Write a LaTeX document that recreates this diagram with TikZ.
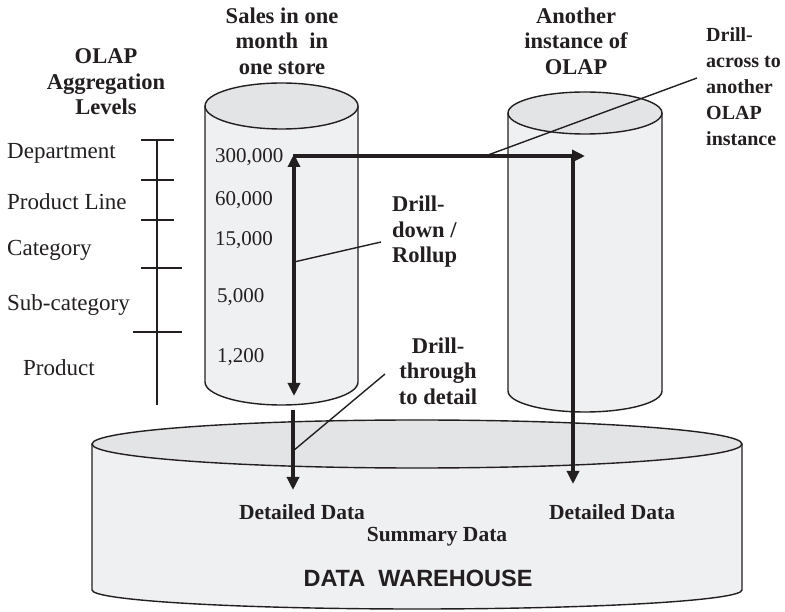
\documentclass[tikz,border=0pt]{standalone}
\usepackage{fontspec}
\setmainfont{Liberation Serif}
\newfontfamily\whfont{Liberation Sans}
\usetikzlibrary{arrows.meta}
\definecolor{sidegray}{RGB}{239,240,242}
\definecolor{topgray}{RGB}{227,228,230}
\definecolor{ink}{RGB}{35,31,32}
% #1 cx, #2 top Y, #3 bottom Y, #4 rx, #5 top ry, #6 bottom ry
\newcommand\olapcyl[6]{%
  \fill[sidegray] (#1-#4,#2) -- (#1-#4,#3) arc[start angle=180,end angle=360,x radius=#4,y radius=#6] -- (#1+#4,#2) -- cycle;
  \draw[outline] (#1-#4,#2) -- (#1-#4,#3) arc[start angle=180,end angle=360,x radius=#4,y radius=#6] -- (#1+#4,#2);
  \draw[outline,fill=topgray] (#1,#2) ellipse[x radius=#4,y radius=#5];
}
\begin{document}
\begin{tikzpicture}[x=1pt,y=1pt,
  outline/.style={line width=1.4pt,ink},
  thinline/.style={line width=1.4pt,ink},
  thickarrow/.style={line width=3.4pt,ink,-{Triangle[length=13pt,width=12pt]}},
  dblarrow/.style={line width=3.4pt,ink,{Triangle[length=13pt,width=12pt]}-{Triangle[length=13pt,width=12pt]}},
  bl/.style={font=\fontsize{22.5}{25.5}\selectfont\bfseries,text=ink,align=center,inner sep=0pt},
  bll/.style={bl,align=left,anchor=west},
  wbl/.style={font=\fontsize{21.5}{25}\selectfont\bfseries,text=ink,inner sep=0pt},
  rg/.style={font=\fontsize{23}{26}\selectfont,text=ink,anchor=west,inner sep=0pt},
  num/.style={font=\fontsize{21}{25}\selectfont,text=ink,anchor=west,inner sep=0pt}]
\useasboundingbox (0,0) rectangle (785,611);

% data warehouse
\olapcyl{417}{167}{21}{325}{24}{19}
% OLAP cylinders
\olapcyl{281.5}{505}{229}{76.5}{23}{23}
\olapcyl{585}{498}{220}{77}{21}{21}

% aggregation level scale
\draw[thinline] (157,471) -- (157,206);
\draw[thinline] (141,471) -- (174,471);
\draw[thinline] (141,431) -- (174,431);
\draw[thinline] (141,391) -- (174,391);
\draw[thinline] (141,343) -- (182,343);
\draw[thinline] (133,279) -- (182,279);

% headings
\node[bl] (sales) at (282,570) {Sales in one\\month\ \ in\\one store};
\node[bl] (another) at (576,570) {Another\\instance of\\OLAP};
\node[bl] (levels) at (106,529) {OLAP\\Aggregation\\Levels};

% level labels
\node[rg] (dept) at (7,458) {Department};
\node[rg] (pline) at (7,409) {Product Line};
\node[rg] (cat) at (7,361) {Category};
\node[rg] (subcat) at (7,306) {Sub-category};
\node[rg] (prod) at (23,243) {Product};

% numbers
\node[num] (n1) at (215,454) {300,000};
\node[num] (n2) at (215,411) {60,000};
\node[num] (n3) at (215,371) {15,000};
\node[num] (n4) at (217,314) {5,000};
\node[num] (n5) at (217,254) {1,200};

% connector points
\coordinate (corner) at (293,455);
\coordinate (acrossend) at (585,455);
\coordinate (rtop) at (573,455);
\coordinate (rbot) at (573,127);
\coordinate (ddtop) at (294,457);
\coordinate (ddbot) at (294,215);
\coordinate (dtstart) at (293,201);
\coordinate (dtend) at (293,121);

% arrows
\draw[dblarrow] (ddbot) -- (ddtop);
\draw[line width=3.4pt,ink] (corner) -- (rtop);
\draw[thickarrow] (corner) -- (acrossend);
\draw[thickarrow] (rtop) -- (rbot);
\draw[thickarrow] (dtstart) -- (dtend);

% labels with pointer lines
\node[bll] (ddlabel) at (392,379) {Drill-\\down /\\Rollup};
\node[bl] (dtlabel) at (438,240) {Drill-\\through\\to detail};
\node[bll,font=\fontsize{20}{26}\selectfont\bfseries] (dalabel) at (706,524) {Drill-\\across to\\another\\OLAP\\instance};

\coordinate (p1) at (294,349);
\coordinate (p1e) at (381,369);
\coordinate (p2) at (293,160);
\coordinate (p2e) at (385,237);
\coordinate (p3) at (488,456);
\coordinate (p3e) at (697,533);
\draw[thinline] (p1) -- (p1e);
\draw[thinline] (p2) -- (p2e);
\draw[thinline] (p3) -- (p3e);

% warehouse texts
\node[wbl] (dd1) at (302,99) {Detailed Data};
\node[wbl] (dd2) at (612,99) {Detailed Data};
\node[wbl] (sum) at (437,74) {Summary Data};
\node[font=\whfont\fontsize{23.5}{27}\selectfont\bfseries,text=ink,inner sep=0pt] (dw) at (418,33) {DATA\ \ WAREHOUSE};
\end{tikzpicture}
\end{document}
